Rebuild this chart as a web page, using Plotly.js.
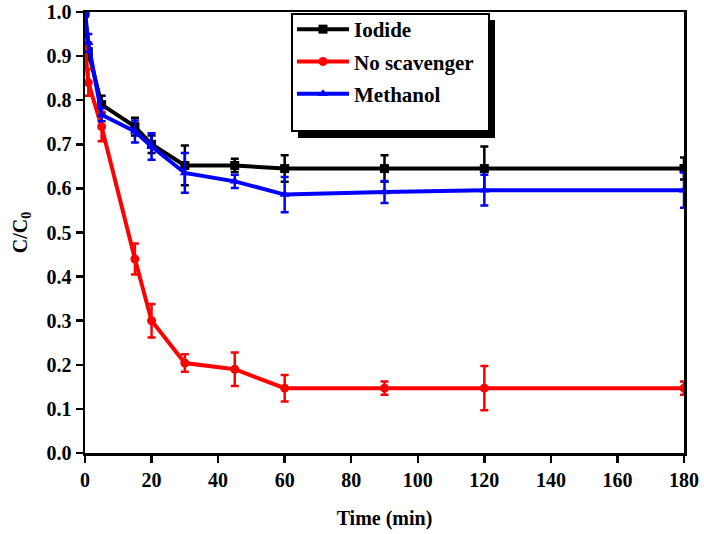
<!DOCTYPE html>
<html>
<head>
<meta charset="utf-8">
<script src="https://cdn.plot.ly/plotly-3.0.1.min.js"></script>
<style>html,body{margin:0;padding:0;background:#fff;}#chart{width:704px;height:534px;}</style>
</head>
<body>
<div id="chart"></div>
<script>
const time = [0, 1, 5, 15, 20, 30, 45, 60, 90, 120, 180];
const iodide = [1.0, 0.91, 0.79, 0.74, 0.70, 0.652, 0.652, 0.645, 0.645, 0.645, 0.645];
const iodideErr = [0.01, 0.02, 0.02, 0.02, 0.02, 0.045, 0.015, 0.03, 0.03, 0.05, 0.025];
const noScav = [0.92, 0.84, 0.74, 0.44, 0.30, 0.204, 0.19, 0.147, 0.147, 0.147, 0.147];
const noScavErr = [0.01, 0.03, 0.033, 0.035, 0.038, 0.02, 0.038, 0.03, 0.015, 0.05, 0.015];
const methanol = [1.0, 0.93, 0.767, 0.729, 0.695, 0.635, 0.616, 0.586, 0.592, 0.596, 0.596];
const methanolErr = [0.01, 0.02, 0.015, 0.025, 0.03, 0.045, 0.015, 0.04, 0.025, 0.035, 0.04];
const names = ['Iodide', 'No scavenger', 'Methanol'];
const colors = ['#000000', '#ff0000', '#0000ff'];
const symbols = ['square', 'circle', 'triangle-up'];
const xTicks = [0, 20, 40, 60, 80, 100, 120, 140, 160, 180];
const yTicks = [0.0, 0.1, 0.2, 0.3, 0.4, 0.5, 0.6, 0.7, 0.8, 0.9, 1.0];

const series = [iodide, noScav, methanol];
const errs = [iodideErr, noScavErr, methanolErr];
const traces = series.map((ys, i) => ({
  x: time, y: ys, name: names[i], legendgroup: 'g' + i, type: 'scatter', mode: 'lines+markers',
  line: {color: colors[i], width: 4},
  marker: {color: colors[i], symbol: symbols[i], size: 9},
  error_y: {type: 'data', array: errs[i], visible: true, color: colors[i], thickness: 2.5, width: 4}
}));

const font = {family: '"Liberation Serif", "Times New Roman", serif', color: '#000', weight: 700};
const W = 704, H = 534, L = 85, R = 20, T = 12, B = 81;
const pw = W - L - R, ph = H - T - B;
const px = v => (v - L) / pw;
const py = v => 1 - (v - T) / ph;

const layout = {
  width: W, height: H,
  margin: {l: L, r: R, t: T, b: B, autoexpand: false},
  paper_bgcolor: '#fff', plot_bgcolor: '#fff',
  showlegend: true,
  legend: {x: px(292), y: py(9), xanchor: 'left', yanchor: 'top', bgcolor: 'rgba(0,0,0,0)', borderwidth: 0,
    font: Object.assign({}, font, {size: 21}), itemwidth: 52, traceorder: 'grouped', tracegroupgap: 2},
  xaxis: {range: [0, 180], tickvals: xTicks, ticktext: xTicks.map(String), showgrid: false, zeroline: false,
    showline: true, linecolor: '#000', linewidth: 2.5, mirror: true, ticks: 'outside', ticklen: 7, tickwidth: 2.5, tickcolor: '#000',
    tickfont: Object.assign({}, font, {size: 20}),
    title: {text: 'Time (min)', font: Object.assign({}, font, {size: 20}), standoff: 22}},
  yaxis: {range: [0, 1.0], tickvals: yTicks, ticktext: yTicks.map(v => v.toFixed(1)), showgrid: false, zeroline: false,
    showline: true, linecolor: '#000', linewidth: 2.5, mirror: true, ticks: 'outside', ticklen: 7, tickwidth: 2.5, tickcolor: '#000',
    tickfont: Object.assign({}, font, {size: 20}),
    title: {text: 'C/C<sub>0</sub>', font: Object.assign({}, font, {size: 20}), standoff: 14}},
  shapes: [
    {type: 'rect', xref: 'paper', yref: 'paper', x0: px(298), x1: px(495), y0: py(138), y1: py(20), fillcolor: '#000', line: {width: 0}},
    {type: 'rect', xref: 'paper', yref: 'paper', x0: px(292), x1: px(489), y0: py(131), y1: py(14), fillcolor: '#fff', line: {color: '#000', width: 2}}
  ]
};
Plotly.newPlot('chart', traces, layout, {displayModeBar: false, staticPlot: true});
</script>
</body>
</html>
